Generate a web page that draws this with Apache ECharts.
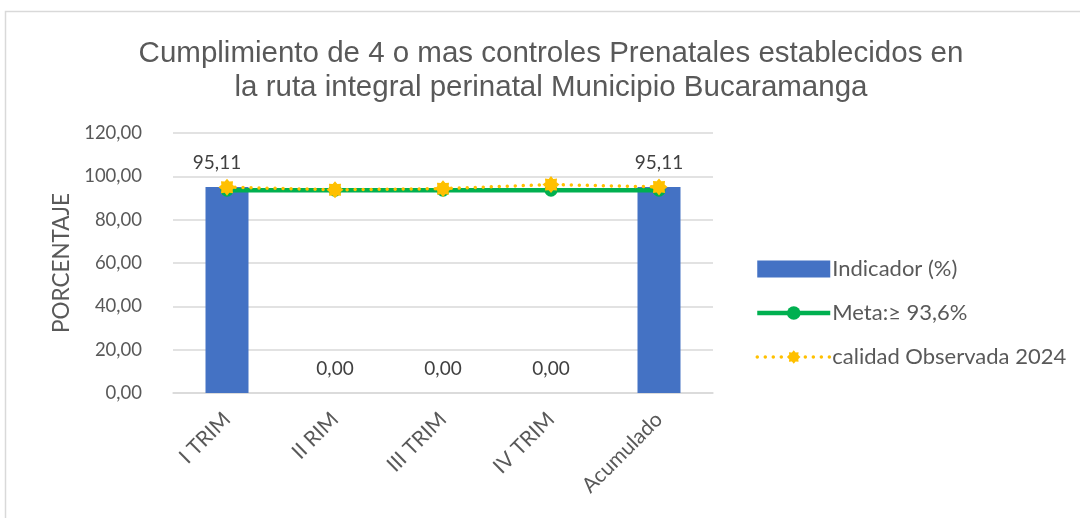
<!DOCTYPE html>
<html>
<head>
<meta charset="utf-8">
<script src="https://cdn.jsdelivr.net/npm/echarts@6/dist/echarts.min.js"></script>
<style>
  html, body { margin: 0; padding: 0; background: #fff; }
  #chart { width: 1080px; height: 518px; }
</style>
</head>
<body>
<div id="chart"></div>
<script>
/* datos del grafico */
var categorias = ['I TRIM', 'II RIM', 'III TRIM', 'IV TRIM', 'Acumulado'];
var indicador = [95.11, 0, 0, 0, 95.11];
var meta = [93.6, 93.6, 93.6, 93.6, 93.6];
var calidad = [95.0, 93.8, 94.3, 96.2, 95.1];
var ticksY = [0, 20, 40, 60, 80, 100, 120];

function coma(v) {
    return v.toFixed(2).replace('.', ',');
}

// marcador tipo estrella redondeada (como el de Excel)
function estrella() {
    var p = [];
    for (var i = 0; i < 16; i++) {
        var r = i % 2 === 0 ? 10 : 7.2;
        var a = Math.PI * i / 8 - Math.PI / 2;
        p.push((10 + r * Math.cos(a)).toFixed(2) + ',' + (10 + r * Math.sin(a)).toFixed(2));
    }
    return 'path://M' + p.join(' L') + ' Z';
}

var fuente = 'Lato, "Noto Sans", sans-serif';
var gris = '#595959';
var punteado = { color: '#FFC000', width: 3.5, type: [0.01, 8], cap: 'round' };

var chart = echarts.init(document.getElementById('chart'));
var option = {
    backgroundColor: '#fff',
    animation: false,
    graphic: [{
        type: 'rect',
        shape: { x: 5.5, y: 11.5, width: 1200, height: 600 },
        style: { fill: 'none', stroke: '#d9d9d9', lineWidth: 1.5 },
        silent: true
    }],
    title: {
        text: 'Cumplimiento de 4 o mas controles Prenatales establecidos en\nla ruta integral perinatal Municipio Bucaramanga',
        left: 546,
        textAlign: 'center',
        top: 32,
        textStyle: {
            fontFamily: '"Liberation Sans", Arial, sans-serif',
            fontSize: 29.5,
            fontWeight: 'normal',
            color: gris,
            lineHeight: 34
        }
    },
    legend: {
        orient: 'vertical',
        left: 750,
        top: 253,
        itemWidth: 73,
        itemHeight: 17,
        itemGap: 22,
        textStyle: { fontFamily: fuente, fontSize: 22, color: gris, padding: [0, 0, 0, -3] },
        data: [
            { name: 'Indicador (%)', icon: 'rect' },
            { name: 'Meta:\u2265 93,6%', lineStyle: { width: 4.5 }, itemStyle: { color: '#00B050' } },
            { name: 'calidad Observada 2024', lineStyle: punteado }
        ]
    },
    grid: { left: 173, right: 367, top: 133, bottom: 125 },
    xAxis: {
        type: 'category',
        data: categorias,
        axisLine: { lineStyle: { color: '#d9d9d9', width: 1.5 } },
        axisTick: { show: false },
        axisLabel: {
            rotate: 45,
            interval: 0,
            margin: 23,
            fontFamily: fuente,
            fontSize: 21,
            color: gris
        }
    },
    yAxis: {
        type: 'value',
        min: 0,
        max: 120,
        interval: 20,
        name: 'PORCENTAJE',
        nameLocation: 'middle',
        nameRotate: 90,
        nameGap: 100,
        nameTextStyle: { fontFamily: fuente, fontSize: 22.5, color: gris },
        axisLine: { show: false },
        axisTick: { show: false },
        splitLine: { lineStyle: { color: '#d9d9d9', width: 1.5 } },
        axisLabel: {
            margin: 31,
            fontFamily: fuente,
            fontSize: 18.5,
            color: gris,
            formatter: function (v) { return ticksY.indexOf(v) >= 0 ? coma(v) : ''; }
        }
    },
    series: [
        {
            name: 'Indicador (%)',
            type: 'bar',
            data: indicador.map(function (v, i) {
                // Excel desplaza un poco la primera etiqueta
                return i === 0 ? { value: v, label: { offset: [-10, 0] } } : v;
            }),
            barWidth: 43,
            itemStyle: { color: '#4472C4' },
            label: {
                show: true,
                position: 'top',
                distance: 15,
                fontFamily: fuente,
                fontSize: 19,
                color: '#404040',
                formatter: function (p) { return coma(p.value); }
            },
            z: 1
        },
        {
            name: 'Meta:\u2265 93,6%',
            type: 'line',
            data: meta,
            symbol: 'circle',
            symbolSize: 13,
            itemStyle: { color: '#00B050' },
            lineStyle: { color: '#00B050', width: 4.5 },
            z: 3
        },
        {
            name: 'calidad Observada 2024',
            type: 'line',
            data: calidad,
            symbol: estrella(),
            symbolSize: 17,
            itemStyle: { color: '#FFC000' },
            lineStyle: punteado,
            z: 4
        }
    ]
};
chart.setOption(option);
</script>
</body>
</html>
